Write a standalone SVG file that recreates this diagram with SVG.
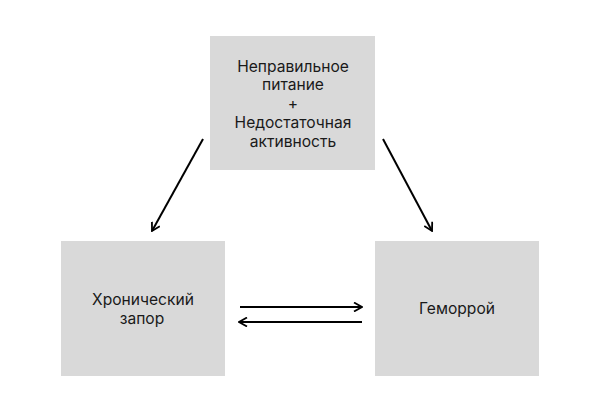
<svg xmlns="http://www.w3.org/2000/svg" width="599" height="413" viewBox="0 0 599 413">
<defs>
<style>
.box{fill:#d9d9d9;}
.t{font-family:Inter,"Liberation Sans",sans-serif;font-size:15.6px;fill:#1a1a1a;text-anchor:middle;}
.c{stroke:#000;stroke-width:2;fill:none;}
</style>
<marker id="ah" viewBox="0 0 10 10" refX="9" refY="5" markerWidth="10" markerHeight="10" markerUnits="userSpaceOnUse" orient="auto">
<path d="M1,0.5 L9,5 L1,9.5" fill="none" stroke="#000" stroke-width="1.8"/>
</marker>
</defs>
<rect width="599" height="413" fill="#fff"/>
<g id="node-top">
<rect class="box" x="210" y="36" width="165" height="134"/>
<text class="t" x="293" y="72">Неправильное</text>
<text class="t" x="293" y="90">питание</text>
<text class="t" x="293" y="109">+</text>
<text class="t" x="293" y="128">Недостаточная</text>
<text class="t" x="293" y="147">активность</text>
</g>
<g id="node-left">
<rect class="box" x="61" y="241" width="164" height="135"/>
<text class="t" x="143" y="305">Хронический</text>
<text class="t" x="142" y="324">запор</text>
</g>
<g id="node-right">
<rect class="box" x="375" y="241" width="164" height="135"/>
<text class="t" x="457" y="314">Геморрой</text>
</g>
<g id="connectors">
<line class="c" x1="203" y1="139" x2="152" y2="231" marker-end="url(#ah)"/>
<line class="c" x1="383" y1="139" x2="432" y2="231" marker-end="url(#ah)"/>
<line class="c" x1="240" y1="307" x2="362" y2="307" marker-end="url(#ah)"/>
<line class="c" x1="362" y1="322" x2="239" y2="322" marker-end="url(#ah)"/>
</g>
</svg>
